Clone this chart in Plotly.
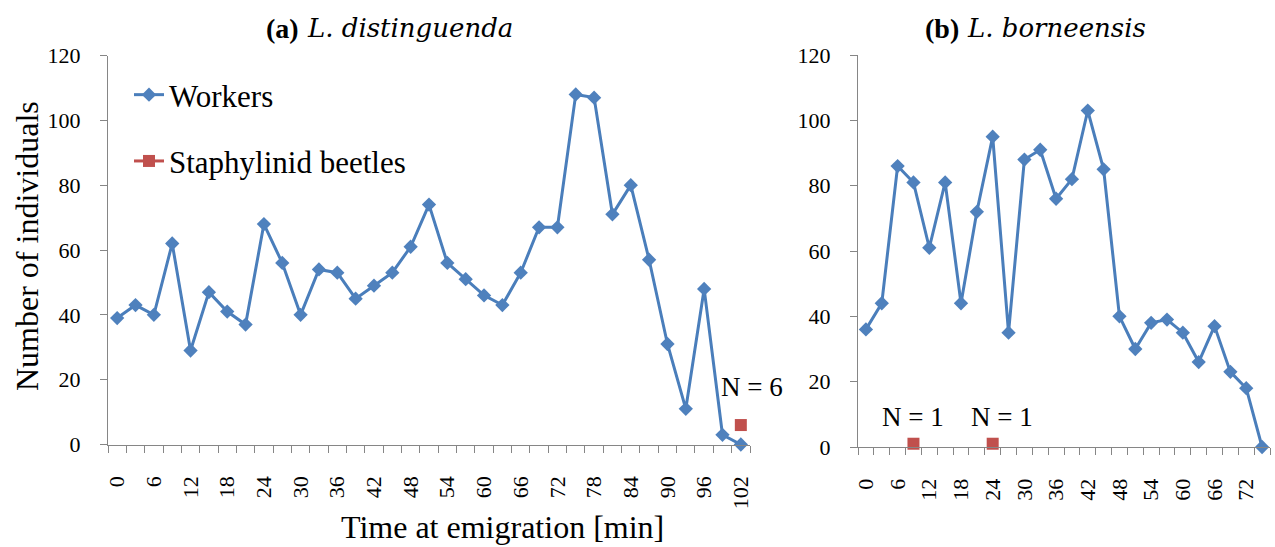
import plotly.graph_objects as go

# ---------------- data ----------------
time_a = list(range(0, 103, 3))          # minutes, panel (a)
workers_a = [39, 43, 40, 62, 29, 47, 41, 37, 68, 56, 40, 54, 53, 45, 49, 53, 61, 74,
             56, 51, 46, 43, 53, 67, 67, 108, 107, 71, 80, 57, 31, 11, 48, 3, 0]
beetle_a_times = [102]
beetle_a_counts = [6]

time_b = list(range(0, 76, 3))           # minutes, panel (b)
workers_b = [36, 44, 86, 81, 61, 81, 44, 72, 95, 35, 88, 91, 76, 82, 103, 85, 40, 30,
             38, 39, 35, 26, 37, 23, 18, 0]
beetle_b_times = [9, 24]
beetle_b_counts = [1, 1]

ticks_a = list(range(0, 103, 6))
ticks_b = list(range(0, 73, 6))
y_ticks = [0, 20, 40, 60, 80, 100, 120]

BLUE_LINE = "#4A7EBB"
BLUE_MARK = "#4F81BD"
RED = "#C0504D"
AXIS = "#868686"
FONT = "Liberation Serif"
ITAL = "DejaVu Serif"


def aligned(times, sel_times, sel_counts):
    d = dict(zip(sel_times, sel_counts))
    return [d.get(t) for t in times]


fig = go.Figure()

fig.add_trace(go.Scatter(
    x=time_a, y=workers_a, name="Workers", mode="lines+markers",
    line=dict(color=BLUE_LINE, width=3),
    marker=dict(symbol="diamond", size=11, color=BLUE_MARK),
    xaxis="x", yaxis="y", cliponaxis=False, legendgroup="w"))
fig.add_trace(go.Scatter(
    x=time_a, y=aligned(time_a, beetle_a_times, beetle_a_counts),
    name="Staphylinid beetles", mode="lines+markers", connectgaps=False,
    line=dict(color=RED, width=3),
    marker=dict(symbol="square", size=12, color=RED),
    xaxis="x", yaxis="y", cliponaxis=False, legendgroup="s"))
fig.add_trace(go.Scatter(
    x=time_b, y=workers_b, name="Workers", mode="lines+markers",
    line=dict(color=BLUE_LINE, width=3),
    marker=dict(symbol="diamond", size=11, color=BLUE_MARK),
    xaxis="x2", yaxis="y2", cliponaxis=False, showlegend=False))
fig.add_trace(go.Scatter(
    x=time_b, y=aligned(time_b, beetle_b_times, beetle_b_counts),
    name="Staphylinid beetles", mode="lines+markers", connectgaps=False,
    line=dict(color=RED, width=3),
    marker=dict(symbol="square", size=12, color=RED),
    xaxis="x2", yaxis="y2", cliponaxis=False, showlegend=False))


def xaxis(times, ticks, domain, anchor):
    step = times[1] - times[0]
    bounds = [t - step / 2 for t in times] + [times[-1] + step / 2]
    return dict(
        domain=domain, anchor=anchor, range=[bounds[0], bounds[-1]],
        tickmode="array", tickvals=ticks, ticktext=[str(t) for t in ticks],
        tickangle=-90, ticks="outside", ticklen=7, tickcolor="rgba(0,0,0,0)",
        ticklabelstandoff=15,
        minor=dict(tickmode="array", tickvals=bounds, ticks="outside",
                   ticklen=7, tickcolor=AXIS, tickwidth=1, showgrid=False),
        showline=True, linecolor=AXIS, linewidth=1, showgrid=False,
        zeroline=False, automargin=False,
        tickfont=dict(family=FONT, size=22, color="black"))


def yaxis(domain, anchor):
    return dict(
        domain=domain, anchor=anchor, range=[0, 120],
        tickmode="array", tickvals=y_ticks, ticks="outside", ticklen=7,
        tickcolor=AXIS, showline=True, linecolor=AXIS, linewidth=1,
        showgrid=False, zeroline=False, ticklabelstandoff=15, automargin=False,
        tickfont=dict(family=FONT, size=22, color="black"))


W, H = 1275, 547
fig.update_layout(
    width=W, height=H, margin=dict(l=0, r=0, t=0, b=0),
    paper_bgcolor="white", plot_bgcolor="white",
    xaxis=xaxis(time_a, ticks_a, [108 / W, 750 / W], "y"),
    yaxis=yaxis([1 - 444.5 / H, 1 - 55.5 / H], "x"),
    xaxis2=xaxis(time_b, ticks_b, [858 / W, 1270 / W], "y2"),
    yaxis2=yaxis([1 - 447 / H, 1 - 55 / H], "x2"),
    showlegend=True,
    legend=dict(x=129 / W, y=1 - 68 / H, xanchor="left", yanchor="top",
                bgcolor="rgba(0,0,0,0)", tracegroupgap=23,
                font=dict(family=FONT, size=31, color="black"),
                itemwidth=30),
    font=dict(family=FONT, color="black"),
)


def txt(text, x, y, size, family=FONT, xanchor="center", angle=0):
    return dict(text=text, x=x / W, y=1 - y / H, xref="paper", yref="paper",
                xanchor=xanchor, yanchor="middle", textangle=angle,
                showarrow=False, font=dict(family=family, size=size, color="black"))


anns = [
    txt("<b>(a)</b>", 301, 28, 28, xanchor="right"),
    txt("<i>L. distinguenda</i>", 305, 28, 26, family=ITAL, xanchor="left"),
    txt("<b>(b)</b>", 961, 28, 28, xanchor="right"),
    txt("<i>L. borneensis</i>", 965, 28, 26, family=ITAL, xanchor="left"),
    txt("Number of individuals", 27, 246, 32, angle=-90),
    txt("Time at emigration [min]", 502, 527, 32),
]
n_shift_a = [11]
n_shift_b = [0, 9]
for t, c, dx in zip(beetle_a_times, beetle_a_counts, n_shift_a):
    anns.append(dict(text=f"N = {c}", x=t, y=c, xref="x", yref="y",
                     xanchor="center", yanchor="middle",
                     showarrow=False, yshift=38, xshift=dx,
                     font=dict(family=FONT, size=27, color="black")))
for t, c, dx in zip(beetle_b_times, beetle_b_counts, n_shift_b):
    anns.append(dict(text=f"N = {c}", x=t, y=c, xref="x2", yref="y2",
                     xanchor="center", yanchor="middle",
                     showarrow=False, yshift=27, xshift=dx,
                     font=dict(family=FONT, size=27, color="black")))
fig.update_layout(annotations=anns)

fig.write_html("out.html", config={"displayModeBar": False},
               post_script="document.body.style.margin='0';document.body.style.overflow='hidden';")
